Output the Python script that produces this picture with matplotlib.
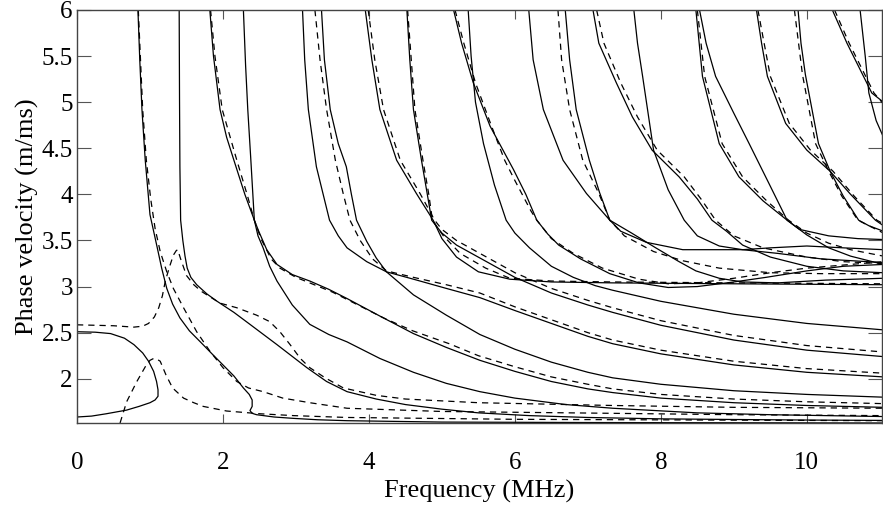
import matplotlib
matplotlib.use("Agg")
import matplotlib.pyplot as plt

# ---------------- data (frequency MHz, phase velocity m/ms) ----------------
# solid curves
s_loop_f = [0, 0.25, 0.46, 0.65, 0.78, 0.9, 0.98, 1.05, 1.09, 1.11, 1.11, 1.07, 1.0, 0.85, 0.68, 0.4, 0.2, 0]
s_loop_v = [2.51, 2.505, 2.49, 2.44, 2.37, 2.28, 2.19, 2.08, 1.97, 1.88, 1.81, 1.77, 1.74, 1.70, 1.66, 1.62, 1.595, 1.585]

s_a_f = [0.835, 0.86, 0.89, 0.935, 1.0, 1.05, 1.10, 1.16, 1.23, 1.31, 1.41, 1.54, 1.69, 1.85, 2.0, 2.15, 2.28, 2.36, 2.40, 2.40, 2.37, 2.40, 2.46, 2.7, 2.97, 3.3, 3.70, 5.0, 7.0, 11.05]
s_a_v = [6.0, 5.46, 4.92, 4.37, 3.78, 3.60, 3.42, 3.20, 2.98, 2.81, 2.66, 2.52, 2.40, 2.27, 2.15, 2.03, 1.90, 1.83, 1.77, 1.70, 1.655, 1.625, 1.61, 1.585, 1.57, 1.555, 1.545, 1.53, 1.525, 1.52]

s_e_f = [1.40, 1.405, 1.41, 1.42, 1.45, 1.48, 1.51, 1.56, 1.64, 1.78, 1.92, 2.15, 2.37, 2.74, 3.15, 3.42, 3.70, 4.1, 4.5, 5.0, 5.5, 6.2, 7.0, 8.0, 9.0, 10.0, 11.05]
s_e_v = [6.0, 5.0, 4.3, 3.72, 3.5, 3.33, 3.20, 3.10, 3.02, 2.92, 2.84, 2.72, 2.59, 2.37, 2.12, 1.97, 1.86, 1.78, 1.72, 1.67, 1.63, 1.60, 1.58, 1.565, 1.558, 1.552, 1.548]

s_b1_f = [1.82, 1.87, 1.96, 2.05, 2.15, 2.30, 2.43, 2.49, 2.60, 2.74, 2.95, 3.19, 3.45, 3.70, 4.15, 4.61, 5.06, 5.52, 6.0, 6.5, 7.0, 7.34, 8.0, 9.0, 10.0, 11.05]
s_b1_v = [6.0, 5.5, 4.92, 4.62, 4.37, 4.0, 3.72, 3.60, 3.40, 3.24, 3.13, 3.06, 2.97, 2.87, 2.68, 2.49, 2.34, 2.20, 2.08, 1.97, 1.89, 1.85, 1.79, 1.74, 1.71, 1.69]
s_b2_f = [2.28, 2.31, 2.34, 2.38, 2.43, 2.48, 2.55, 2.64, 2.74, 2.95, 3.19, 3.45, 3.70, 4.15, 4.61, 5.06, 5.52, 6.0, 6.7, 7.34, 8.5, 9.5, 11.05]
s_b2_v = [6.0, 5.4, 4.92, 4.4, 3.72, 3.55, 3.42, 3.22, 3.06, 2.80, 2.59, 2.48, 2.40, 2.22, 2.07, 1.95, 1.86, 1.79, 1.72, 1.68, 1.63, 1.61, 1.59]

s_c1_f = [3.09, 3.12, 3.17, 3.28, 3.46, 3.58, 3.70, 3.97, 4.24, 4.61, 5.06, 5.52, 6.0, 6.5, 7.0, 7.34, 8.0, 9.0, 10.0, 11.05]
s_c1_v = [6.0, 5.46, 4.92, 4.30, 3.72, 3.55, 3.42, 3.27, 3.16, 3.08, 2.98, 2.88, 2.74, 2.60, 2.46, 2.38, 2.27, 2.15, 2.07, 2.02]
s_c2_f = [3.35, 3.39, 3.47, 3.58, 3.69, 3.76, 3.83, 3.97, 4.10, 4.24, 4.61, 5.06, 5.52, 6.0, 6.5, 7.0, 7.34, 8.0, 9.0, 10.0, 11.05]
s_c2_v = [6.0, 5.46, 4.92, 4.55, 4.30, 4.0, 3.72, 3.49, 3.31, 3.16, 2.91, 2.69, 2.48, 2.32, 2.18, 2.07, 2.01, 1.94, 1.87, 1.83, 1.80]

s_d1_f = [3.95, 4.04, 4.15, 4.38, 4.65, 4.88, 5.0, 5.2, 5.5, 5.93, 6.5, 7.34, 9.0, 11.05]
s_d1_v = [6.0, 5.46, 4.92, 4.37, 4.01, 3.72, 3.52, 3.32, 3.16, 3.08, 3.05, 3.04, 3.03, 3.02]
s_d2_f = [4.52, 4.56, 4.61, 4.72, 4.80, 4.86, 5.0, 5.2, 5.52, 6.0, 6.5, 7.0, 7.34, 8.0, 9.0, 10.0, 11.05]
s_d2_v = [6.0, 5.46, 4.92, 4.37, 4.0, 3.72, 3.58, 3.45, 3.31, 3.10, 2.93, 2.80, 2.72, 2.58, 2.42, 2.31, 2.24]

s_f1_f = [5.16, 5.27, 5.43, 5.66, 5.98, 6.15, 6.30, 6.45, 6.6, 6.9, 7.3, 7.7, 8.1, 8.5, 9.0, 9.44, 10.0, 10.5, 11.05]
s_f1_v = [6.0, 5.64, 5.21, 4.74, 4.27, 4.0, 3.72, 3.57, 3.45, 3.30, 3.14, 3.04, 2.99, 3.0, 3.05, 3.10, 3.17, 3.22, 3.24]
s_f2_f = [5.36, 5.40, 5.46, 5.57, 5.72, 5.88, 6.0, 6.2, 6.5, 6.8, 7.1, 7.34, 8.0, 9.0, 10.0, 11.05]
s_f2_v = [6.0, 5.5, 5.0, 4.55, 4.10, 3.72, 3.58, 3.42, 3.22, 3.10, 3.01, 2.96, 2.84, 2.70, 2.60, 2.53]

s_g1_f = [6.19, 6.25, 6.39, 6.66, 6.98, 7.30, 7.6, 7.93, 8.25, 8.48, 8.8, 9.12, 9.6, 10.26, 11.05]
s_g1_v = [6.0, 5.46, 4.92, 4.37, 4.01, 3.72, 3.58, 3.42, 3.27, 3.17, 3.09, 3.05, 3.04, 3.07, 3.09]
s_g2_f = [6.69, 6.75, 6.84, 7.02, 7.16, 7.30, 7.45, 7.8, 8.3, 9.12, 9.6, 10.2, 11.05]
s_g2_v = [6.0, 5.46, 4.92, 4.37, 4.02, 3.72, 3.60, 3.48, 3.40, 3.40, 3.36, 3.30, 3.26]

s_h1_f = [7.07, 7.15, 7.39, 7.61, 7.88, 8.25, 8.50, 8.70, 8.9, 9.12, 9.5, 10.0, 10.5, 11.05]
s_h1_v = [6.0, 5.64, 5.21, 4.84, 4.48, 4.19, 3.95, 3.72, 3.60, 3.45, 3.32, 3.22, 3.17, 3.15]
s_h2_f = [7.63, 7.68, 7.75, 7.90, 8.10, 8.32, 8.5, 8.8, 9.12, 9.5, 10.0, 10.5, 11.05]
s_h2_v = [6.0, 5.64, 5.28, 4.48, 4.05, 3.72, 3.55, 3.44, 3.40, 3.42, 3.44, 3.42, 3.40]

s_i1_f = [8.48, 8.57, 8.80, 9.07, 9.40, 9.73, 10.0, 10.3, 10.6, 11.05]
s_i1_v = [6.0, 5.28, 4.55, 4.19, 3.93, 3.72, 3.56, 3.42, 3.33, 3.24]
s_i2_f = [8.53, 8.62, 8.75, 9.0, 9.21, 9.48, 9.73, 9.9, 10.3, 10.7, 11.05]
s_i2_v = [6.0, 5.64, 5.28, 4.88, 4.55, 4.12, 3.72, 3.62, 3.55, 3.52, 3.51]

s_j1_f = [9.31, 9.38, 9.46, 9.71, 10.0, 10.32, 10.6, 10.94, 11.05]
s_j1_v = [6.0, 5.64, 5.28, 4.77, 4.48, 4.25, 4.0, 3.72, 3.66]
s_j2_f = [9.88, 9.92, 9.98, 10.16, 10.32, 10.5, 10.71, 10.85, 11.05]
s_j2_v = [6.0, 5.64, 5.30, 4.55, 4.25, 3.98, 3.72, 3.66, 3.60]

s_k1_f = [10.35, 10.55, 10.89, 11.05]
s_k1_v = [6.0, 5.64, 5.10, 5.0]
s_k2_f = [10.73, 10.80, 10.85, 10.95, 11.05]
s_k2_v = [6.0, 5.5, 5.1, 4.8, 4.62]

# dashed curves
d_c_f = [0, 0.5, 0.78, 0.90, 0.98, 1.06, 1.12, 1.17, 1.21, 1.27, 1.32, 1.36, 1.38, 1.42, 1.5, 1.6, 1.7, 1.96, 2.19, 2.46, 2.64, 2.78, 2.92, 3.06, 3.19, 3.40, 3.65, 4.1, 4.5, 5.5, 7.34, 9.0, 11.05]
d_c_v = [2.585, 2.575, 2.56, 2.57, 2.60, 2.67, 2.77, 2.90, 3.06, 3.22, 3.34, 3.39, 3.40, 3.30, 3.12, 3.02, 2.95, 2.82, 2.77, 2.69, 2.62, 2.51, 2.37, 2.22, 2.12, 2.01, 1.90, 1.82, 1.78, 1.74, 1.71, 1.69, 1.68]

d_b_f = [0.84, 0.87, 0.90, 0.95, 1.01, 1.07, 1.14, 1.23, 1.32, 1.46, 1.64, 1.82, 2.0, 2.19, 2.35, 2.55, 2.82, 3.19, 3.70, 5.0, 7.34, 9.0, 11.05]
d_b_v = [6.0, 5.46, 4.92, 4.37, 3.95, 3.63, 3.38, 3.16, 2.98, 2.77, 2.51, 2.30, 2.12, 1.97, 1.90, 1.86, 1.79, 1.74, 1.68, 1.645, 1.625, 1.61, 1.60]

d_low_f = [0.59, 0.68, 0.82, 0.95, 1.0, 1.05, 1.10, 1.14, 1.22, 1.31, 1.46, 1.6, 1.73, 2.05, 2.51, 2.97, 3.70, 6.0, 11.05]
d_low_v = [1.52, 1.75, 1.97, 2.15, 2.20, 2.22, 2.21, 2.19, 2.04, 1.90, 1.79, 1.74, 1.70, 1.65, 1.62, 1.60, 1.58, 1.56, 1.545]

d_b1_f = [1.83, 1.89, 1.99, 2.19, 2.33, 2.43, 2.52, 2.66, 2.78, 3.0, 3.25, 3.5, 3.75, 4.2, 4.6, 5.1, 5.5, 6.0, 6.5, 7.0, 7.34, 8.0, 9.0, 10.0, 11.05]
d_b1_v = [6.0, 5.5, 4.92, 4.37, 4.0, 3.72, 3.52, 3.30, 3.20, 3.10, 3.02, 2.94, 2.84, 2.66, 2.52, 2.38, 2.25, 2.13, 2.02, 1.94, 1.89, 1.83, 1.78, 1.75, 1.73]
d_c1_f = [3.26, 3.33, 3.42, 3.54, 3.65, 3.74, 3.88, 4.05, 4.24, 4.61, 5.06, 5.52, 6.0, 6.5, 7.0, 7.34, 8.0, 9.0, 10.0, 11.05]
d_c1_v = [6.0, 5.46, 4.92, 4.37, 4.0, 3.72, 3.50, 3.30, 3.17, 3.10, 3.02, 2.93, 2.78, 2.64, 2.50, 2.42, 2.31, 2.19, 2.11, 2.06]
d_d1_f = [3.99, 4.08, 4.20, 4.43, 4.70, 4.90, 5.0, 5.2, 5.52, 6.0, 6.5, 7.0, 7.34, 8.0, 9.0, 10.0, 11.05]
d_d1_v = [6.0, 5.46, 4.92, 4.37, 4.01, 3.72, 3.62, 3.50, 3.36, 3.15, 2.98, 2.85, 2.77, 2.63, 2.47, 2.36, 2.29]
d_d2_f = [4.53, 4.58, 4.63, 4.74, 4.82, 4.87, 5.02, 5.25, 5.6, 5.93, 6.5, 7.34, 9.0, 11.05]
d_d2_v = [6.0, 5.46, 4.92, 4.37, 4.0, 3.72, 3.55, 3.36, 3.20, 3.09, 3.06, 3.05, 3.04, 3.03]
d_f1_f = [5.18, 5.30, 5.46, 5.68, 5.86, 6.0, 6.22, 6.30, 6.5, 6.8, 7.2, 7.7, 8.1, 8.5, 9.0, 9.5, 10.0, 11.05]
d_f1_v = [6.0, 5.64, 5.21, 4.74, 4.37, 4.15, 3.82, 3.72, 3.52, 3.36, 3.20, 3.08, 3.03, 3.04, 3.09, 3.15, 3.20, 3.27]
d_g1_f = [6.59, 6.64, 6.75, 6.93, 7.15, 7.30, 7.5, 7.9, 8.3, 8.8, 9.5, 10.2, 11.05]
d_g1_v = [6.0, 5.46, 4.92, 4.37, 4.01, 3.72, 3.55, 3.38, 3.28, 3.20, 3.15, 3.14, 3.14]
d_h1_f = [7.12, 7.22, 7.45, 7.68, 7.95, 8.32, 8.55, 8.75, 9.0, 9.4, 10.0, 10.5, 11.05]
d_h1_v = [6.0, 5.64, 5.21, 4.84, 4.48, 4.19, 3.95, 3.72, 3.55, 3.42, 3.32, 3.27, 3.25]
d_i1_f = [8.50, 8.60, 8.84, 9.12, 9.45, 9.75, 10.0, 10.3, 10.6, 11.05]
d_i1_v = [6.0, 5.28, 4.55, 4.19, 3.93, 3.72, 3.58, 3.47, 3.40, 3.33]
d_j1_f = [9.33, 9.50, 9.76, 10.05, 10.36, 10.65, 10.96, 11.05]
d_j1_v = [6.0, 5.28, 4.77, 4.48, 4.25, 3.98, 3.72, 3.68]
d_j2_f = [9.83, 9.94, 10.12, 10.30, 10.48, 10.70, 11.05]
d_j2_v = [6.0, 5.30, 4.55, 4.25, 3.98, 3.72, 3.58]
d_k1_f = [10.38, 10.58, 10.92, 11.05]
d_k1_v = [6.0, 5.64, 5.10, 4.98]

solid_curves = [
    (s_loop_f, s_loop_v), (s_a_f, s_a_v), (s_e_f, s_e_v),
    (s_b1_f, s_b1_v), (s_b2_f, s_b2_v), (s_c1_f, s_c1_v), (s_c2_f, s_c2_v),
    (s_d1_f, s_d1_v), (s_d2_f, s_d2_v), (s_f1_f, s_f1_v), (s_f2_f, s_f2_v),
    (s_g1_f, s_g1_v), (s_g2_f, s_g2_v), (s_h1_f, s_h1_v), (s_h2_f, s_h2_v),
    (s_i1_f, s_i1_v), (s_i2_f, s_i2_v), (s_j1_f, s_j1_v), (s_j2_f, s_j2_v),
    (s_k1_f, s_k1_v), (s_k2_f, s_k2_v),
]
dashed_curves = [
    (d_c_f, d_c_v), (d_b_f, d_b_v), (d_low_f, d_low_v), (d_b1_f, d_b1_v),
    (d_c1_f, d_c1_v), (d_d1_f, d_d1_v), (d_d2_f, d_d2_v), (d_f1_f, d_f1_v),
    (d_g1_f, d_g1_v), (d_h1_f, d_h1_v), (d_i1_f, d_i1_v), (d_j1_f, d_j1_v),
    (d_j2_f, d_j2_v), (d_k1_f, d_k1_v),
]

x_ticks = [0, 2, 4, 6, 8, 10]
y_ticks = [2, 2.5, 3, 3.5, 4, 4.5, 5, 5.5, 6]
y_tick_labels = ["2", "2.5", "3", "3.5", "4", "4.5", "5", "5.5", "6"]

# ---------------- figure ----------------
plt.rcParams["font.family"] = ["Liberation Serif", "DejaVu Serif"]
fig = plt.figure(figsize=(8.83, 5.12), dpi=100)
ax = fig.add_axes([77 / 883, 1 - 423 / 512, (882 - 77) / 883, (423 - 10) / 512])

for f, v in solid_curves:
    ax.plot(f, v, color="black", lw=0.9, solid_joinstyle="round")
for f, v in dashed_curves:
    ax.plot(f, v, color="black", lw=0.9, dashes=(5, 4))

ax.set_xlim(0, 11.03)
ax.set_ylim(1.52, 6.0)
ax.set_xticks(x_ticks)
ax.set_xticklabels([str(t) for t in x_ticks])
ax.set_yticks(y_ticks)
ax.set_yticklabels(y_tick_labels)
ax.tick_params(axis="x", direction="in", length=6.5, width=0.8, top=True,
               labelsize=18, pad=21, colors="#555555", labelcolor="black")
ax.tick_params(axis="y", direction="in", length=10, width=0.8, right=True,
               labelsize=18, pad=3, colors="#555555", labelcolor="black")
for sp in ax.spines.values():
    sp.set_color("#444444")
    sp.set_linewidth(1.0)

ax.set_xlabel("Frequency (MHz)", fontsize=19, labelpad=4)
ax.set_ylabel("Phase velocity (m/ms)", fontsize=19, labelpad=2)

fig.savefig("out.png", dpi=100)
